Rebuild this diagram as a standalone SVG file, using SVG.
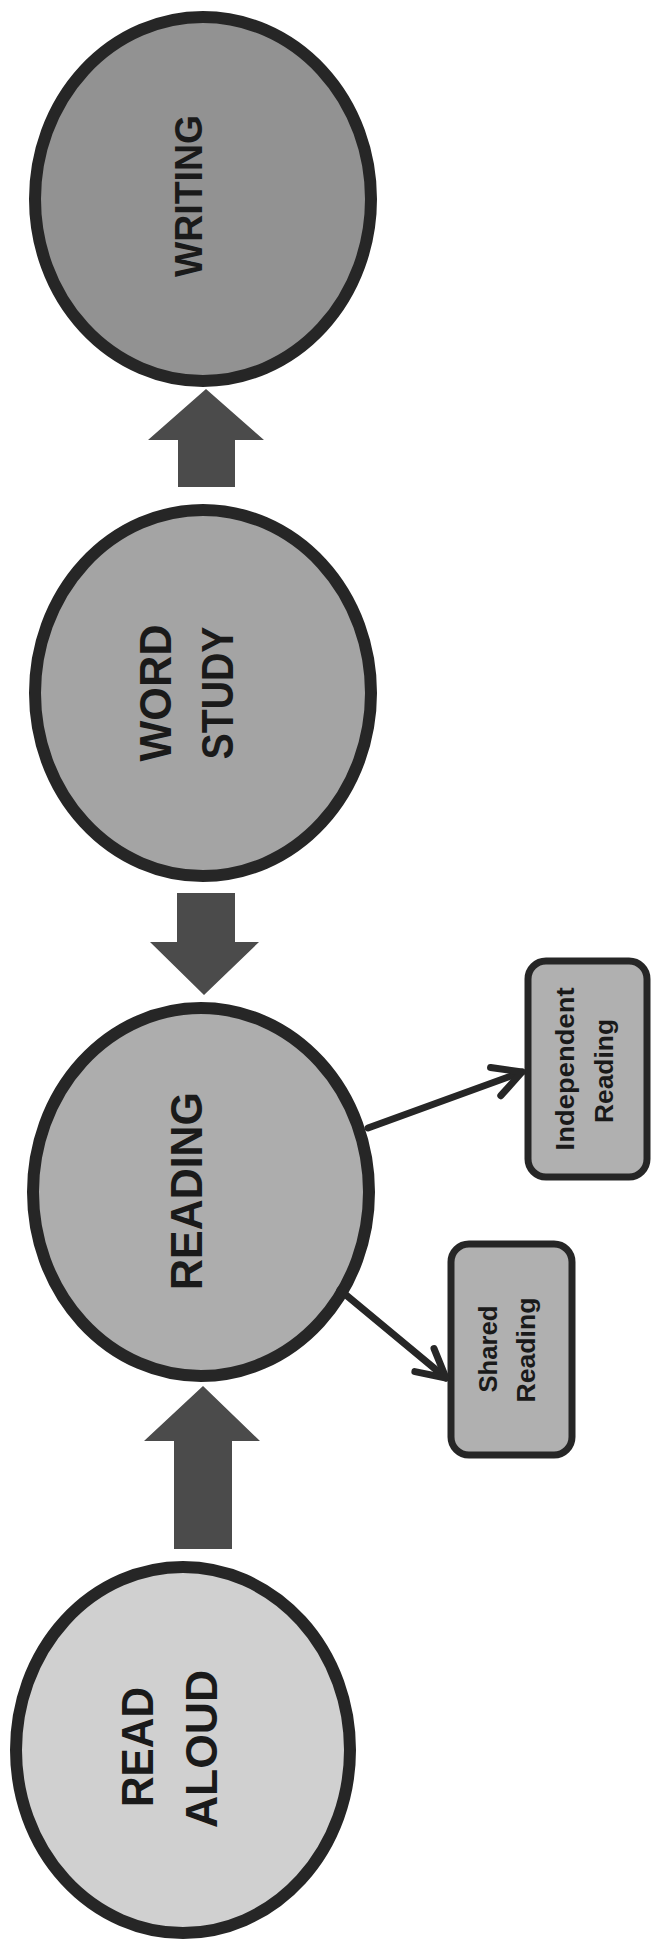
<svg xmlns="http://www.w3.org/2000/svg" width="653" height="1944" viewBox="0 0 653 1944">
  <style>
    .node { stroke: #262626; stroke-width: 12; }
    .box { fill: #b0b0b0; stroke: #262626; stroke-width: 7; }
    .big { font-family: "Liberation Sans", Arial, sans-serif; font-weight: bold; font-size: 44px; fill: #1a1a1a; text-anchor: middle; }
    .small { font-family: "Liberation Sans", Arial, sans-serif; font-weight: bold; font-size: 26px; fill: #1a1a1a; text-anchor: middle; }
    .block { fill: #4b4b4b; }
    .link { stroke: #262626; stroke-width: 7; fill: none; stroke-linecap: round; }
  </style>
  <defs>
    <marker id="open" markerUnits="userSpaceOnUse" markerWidth="40" markerHeight="40" viewBox="-34 -20 40 40" refX="0" refY="0" orient="auto" overflow="visible">
      <path d="M -28,-15 L 0,0 L -28,15" fill="none" stroke="#262626" stroke-width="7" stroke-linecap="round" stroke-linejoin="round"/>
    </marker>
  </defs>
  <rect width="653" height="1944" fill="#ffffff"/>

  <g id="writing">
    <ellipse class="node" cx="203" cy="199" rx="168" ry="182" fill="#929292"/>
    <text class="big" style="font-size:38px" transform="translate(202,196) rotate(-90)" textLength="162" lengthAdjust="spacingAndGlyphs">WRITING</text>
  </g>

  <g id="word-study">
    <ellipse class="node" cx="203" cy="693" rx="168" ry="183" fill="#a4a4a4"/>
    <text class="big" transform="translate(171,693) rotate(-90)" textLength="137" lengthAdjust="spacingAndGlyphs">WORD</text>
    <text class="big" transform="translate(233,693) rotate(-90)" textLength="133" lengthAdjust="spacingAndGlyphs">STUDY</text>
  </g>

  <g id="reading">
    <ellipse class="node" cx="201" cy="1192" rx="168" ry="184" fill="#adadad"/>
    <text class="big" transform="translate(202,1191) rotate(-90)" textLength="198" lengthAdjust="spacingAndGlyphs">READING</text>
  </g>

  <g id="read-aloud">
    <ellipse class="node" cx="183" cy="1750" rx="167" ry="183" fill="#d0d0d0"/>
    <text class="big" transform="translate(153,1747) rotate(-90)" textLength="120" lengthAdjust="spacingAndGlyphs">READ</text>
    <text class="big" transform="translate(217,1749) rotate(-90)" textLength="158" lengthAdjust="spacingAndGlyphs">ALOUD</text>
  </g>

  <g id="independent-reading">
    <rect class="box" x="528" y="961" width="119" height="216" rx="18" ry="18"/>
    <text class="small" transform="translate(574,1069) rotate(-90)" textLength="163" lengthAdjust="spacingAndGlyphs">Independent</text>
    <text class="small" transform="translate(613,1071) rotate(-90)" textLength="104" lengthAdjust="spacingAndGlyphs">Reading</text>
  </g>

  <g id="shared-reading">
    <rect class="box" x="451" y="1244" width="121" height="211" rx="18" ry="18"/>
    <text class="small" transform="translate(497,1349) rotate(-90)" textLength="87" lengthAdjust="spacingAndGlyphs">Shared</text>
    <text class="small" transform="translate(535,1350) rotate(-90)" textLength="105" lengthAdjust="spacingAndGlyphs">Reading</text>
  </g>

  <g id="connectors">
    <polygon class="block" points="206,389 264,440 235,440 235,487 178,487 178,440 148,440"/>
    <polygon class="block" points="177,893 235,893 235,942 259,942 204,995 150,942 177,942"/>
    <polygon class="block" points="203,1386 260,1441 232,1441 232,1549 174,1549 174,1441 144,1441"/>
    <line class="link" x1="368" y1="1128" x2="522" y2="1072" marker-end="url(#open)"/>
    <line class="link" x1="340" y1="1290" x2="446" y2="1378" marker-end="url(#open)"/>
  </g>
</svg>
